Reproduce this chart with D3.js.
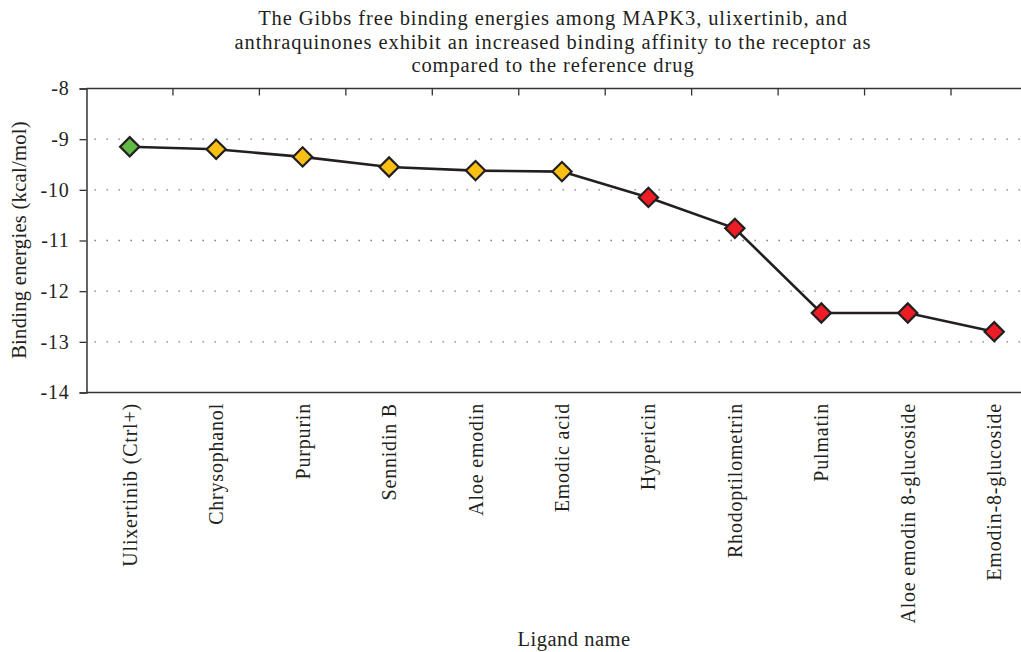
<!DOCTYPE html>
<html><head><meta charset="utf-8">
<script src="https://cdn.jsdelivr.net/npm/d3@7"></script>
<style>body{margin:0;background:#fff}svg{display:block}text{font-family:"Liberation Serif","DejaVu Serif",serif;fill:#231f20}</style>
</head><body><svg id="c" width="1021" height="652"></svg>
<script>
const categories = ["Ulixertinib (Ctrl+)","Chrysophanol","Purpurin","Sennidin B","Aloe emodin","Emodic acid","Hypericin","Rhodoptilometrin","Pulmatin","Aloe emodin 8-glucoside","Emodin-8-glucoside"];
const values = [-9.15,-9.2,-9.35,-9.55,-9.62,-9.64,-10.15,-10.76,-12.43,-12.43,-12.8];
const groups = ["control","high","high","high","high","high","low","low","low","low","low"];
const yTicks = [-8,-9,-10,-11,-12,-13,-14];
const titleLines = ["The Gibbs free binding energies among MAPK3, ulixertinib, and","anthraquinones exhibit an increased binding affinity to the receptor as","compared to the reference drug"];
const colors = {control:"#62b946", high:"#f9c013", low:"#ee1c24"};

const svg = d3.select("#c");
const L = 86.5, R = 86.5 + 86.45*11, T = 88.5, B = 392.5;
const x = d3.scaleBand().domain(categories).range([L, R]);
const y = d3.scaleLinear().domain([-14, -8]).range([B, T]);

// grid
svg.append("g").selectAll("line").data(yTicks.filter(v => v > -14 && v < -8)).join("line")
  .attr("x1", L).attr("x2", 1021).attr("y1", d => y(d)).attr("y2", d => y(d))
  .attr("stroke", "#666").attr("stroke-width", 1.3).attr("stroke-dasharray", "1.3,10.7").attr("stroke-dashoffset", -8);

// frame
svg.append("line").attr("x1", L).attr("x2", 1021).attr("y1", T).attr("y2", T).attr("stroke", "#333").attr("stroke-width", 1.5);
svg.append("line").attr("x1", L).attr("x2", 1021).attr("y1", B).attr("y2", B).attr("stroke", "#333").attr("stroke-width", 1.5);

// top ticks at band boundaries
svg.append("g").selectAll("line").data(categories.slice(1)).join("line")
  .attr("x1", d => x(d)).attr("x2", d => x(d)).attr("y1", T).attr("y2", T + 7)
  .attr("stroke", "#333").attr("stroke-width", 1.3);

// y axis
const ya = svg.append("g").attr("transform", `translate(${L},0)`)
  .call(d3.axisLeft(y).tickValues(yTicks).tickFormat(d => String(d)).tickSize(7).tickPadding(10));
ya.select(".domain").attr("stroke", "#333").attr("stroke-width", 1.5);
ya.selectAll(".tick line").attr("stroke", "#333").attr("stroke-width", 1.3);
ya.selectAll(".tick text").attr("font-size", 20).attr("letter-spacing", 0.8).attr("font-family", "Liberation Serif").attr("fill", "#231f20");

// x labels
svg.append("g").selectAll("text").data(categories).join("text")
  .attr("transform", d => `translate(${x(d) + x.bandwidth()/2 + 7},403) rotate(-90)`)
  .attr("text-anchor", "end").attr("font-size", 20).attr("letter-spacing", 0.8).text(d => d);

// line
const line = d3.line().x((d, i) => x(categories[i]) + x.bandwidth()/2).y(d => y(d));
svg.append("path").datum(values).attr("d", line).attr("fill", "none").attr("stroke", "#231f20").attr("stroke-width", 2.6);

// markers
svg.append("g").selectAll("path").data(values).join("path")
  .attr("transform", (d, i) => `translate(${x(categories[i]) + x.bandwidth()/2},${y(d)}) rotate(45)`)
  .attr("d", "M-6.8,-6.8H6.8V6.8H-6.8Z")
  .attr("fill", (d, i) => colors[groups[i]]).attr("stroke", "#231f20").attr("stroke-width", 2.2);

// title
svg.append("g").selectAll("text").data(titleLines).join("text")
  .attr("x", 553).attr("y", (d, i) => 25 + i * 23.5).attr("text-anchor", "middle")
  .attr("font-size", 20.5).attr("letter-spacing", 0.9).text(d => d);

// axis titles
svg.append("text").attr("transform", "translate(26,240) rotate(-90)").attr("text-anchor", "middle")
  .attr("font-size", 20.5).attr("letter-spacing", 0.3).text("Binding energies (kcal/mol)");
svg.append("text").attr("x", 574).attr("y", 646).attr("text-anchor", "middle")
  .attr("font-size", 20.5).attr("letter-spacing", 0.5).text("Ligand name");
</script></body></html>
